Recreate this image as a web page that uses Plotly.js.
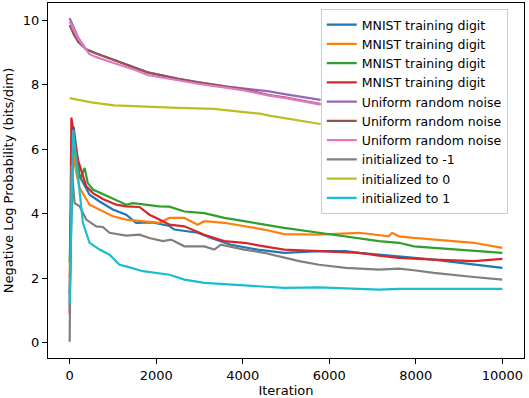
<!DOCTYPE html>
<html>
<head>
<meta charset="utf-8">
<script src="https://cdn.plot.ly/plotly-3.0.1.min.js"></script>
<style>
  body { margin: 0; background: #fff; }
  #chart { width: 529px; height: 398px; }
</style>
</head>
<body>
<div id="chart"></div>
<script>
// values (iteration, bits/dim)
var mnist1Iter = [0, 92, 231, 461, 692, 999, 1307, 1537, 1921, 2306, 2421, 2958, 3267, 3728, 4343, 4957, 5764, 6380, 6687, 7609, 8416, 9031, 10000];
var mnist1Nll  = [1.5, 6.7, 5.16, 4.59, 4.38, 4.13, 3.97, 3.72, 3.73, 3.62, 3.51, 3.41, 3.25, 3.04, 2.89, 2.79, 2.84, 2.84, 2.79, 2.68, 2.58, 2.48, 2.32];

var mnist2Iter = [0, 60, 150, 231, 461, 692, 999, 1307, 1691, 2075, 2306, 2652, 2958, 3113, 3574, 4035, 4496, 4957, 5764, 6687, 7148, 7378, 7452, 7609, 7955, 8416, 8877, 9338, 10000];
var mnist2Nll  = [2.0, 6.1, 5.3, 4.80, 4.28, 4.13, 3.92, 3.82, 3.77, 3.72, 3.87, 3.87, 3.66, 3.77, 3.72, 3.61, 3.51, 3.37, 3.35, 3.41, 3.35, 3.30, 3.41, 3.30, 3.25, 3.20, 3.15, 3.10, 2.94];

var mnist3Iter = [0, 80, 200, 250, 346, 420, 538, 922, 1307, 1460, 2075, 2306, 2652, 3113, 3574, 4035, 4496, 4957, 5764, 6687, 7148, 7609, 7955, 8416, 9338, 10000];
var mnist3Nll  = [2.5, 6.3, 5.3, 5.1, 5.42, 4.95, 4.75, 4.52, 4.28, 4.33, 4.23, 4.22, 4.07, 4.02, 3.87, 3.77, 3.66, 3.56, 3.41, 3.25, 3.15, 3.10, 2.99, 2.94, 2.84, 2.79];

var mnist4Iter = [0, 40, 192, 384, 538, 768, 1076, 1307, 1614, 1845, 2075, 2306, 2652, 3113, 3574, 4035, 4496, 4957, 5764, 6687, 7148, 7609, 8416, 9338, 10000];
var mnist4Nll  = [0.9, 6.98, 5.67, 4.85, 4.64, 4.46, 4.28, 4.23, 4.21, 3.97, 3.82, 3.66, 3.61, 3.35, 3.15, 3.10, 2.99, 2.89, 2.84, 2.79, 2.70, 2.63, 2.58, 2.53, 2.60];

var noise1Iter = [0, 100, 200, 376, 600, 1000, 1500, 1800, 2500, 3000, 3643, 4000, 4611, 5000, 5800];
var noise1Nll  = [10.06, 9.75, 9.45, 9.10, 8.97, 8.78, 8.53, 8.38, 8.19, 8.07, 7.94, 7.88, 7.79, 7.70, 7.53];

var noise2Iter = [0, 100, 200, 376, 600, 1000, 1500, 1800, 2500, 3000, 3643, 4000, 4611, 5000, 5800];
var noise2Nll  = [9.85, 9.55, 9.32, 9.10, 8.97, 8.77, 8.53, 8.38, 8.18, 8.06, 7.93, 7.86, 7.68, 7.60, 7.40];

var noise3Iter = [0, 100, 200, 454, 600, 1000, 1500, 1800, 2500, 3000, 3643, 4000, 4611, 5000, 5800];
var noise3Nll  = [9.96, 9.70, 9.42, 8.95, 8.86, 8.68, 8.46, 8.30, 8.13, 8.02, 7.90, 7.83, 7.66, 7.58, 7.38];

var initNegIter = [0, 40, 115, 231, 384, 615, 768, 922, 1307, 1614, 1845, 2152, 2345, 2652, 3113, 3343, 3497, 4035, 4496, 4957, 5303, 5764, 6380, 7148, 7609, 7955, 8416, 9338, 10000];
var initNegNll  = [0.03, 5.5, 4.33, 4.23, 3.82, 3.61, 3.59, 3.41, 3.32, 3.35, 3.25, 3.15, 3.20, 2.99, 2.99, 2.89, 3.04, 2.89, 2.79, 2.63, 2.53, 2.42, 2.32, 2.27, 2.30, 2.25, 2.17, 2.04, 1.96];

var initZeroIter = [0, 500, 1030, 1500, 2000, 2500, 3336, 3920, 4400, 4611, 5000, 5400, 5800];
var initZeroNll  = [7.58, 7.45, 7.36, 7.33, 7.30, 7.28, 7.25, 7.17, 7.10, 7.04, 6.95, 6.85, 6.78];

var initOneIter = [0, 80, 154, 231, 307, 461, 692, 922, 1153, 1307, 1691, 2306, 2652, 3113, 4035, 4957, 5764, 6687, 7148, 7609, 10000];
var initOneNll  = [1.18, 6.6, 5.67, 4.64, 3.71, 3.10, 2.89, 2.73, 2.42, 2.37, 2.22, 2.11, 1.96, 1.86, 1.77, 1.70, 1.72, 1.68, 1.65, 1.67, 1.67];

var seriesNames = [
  "MNIST training digit", "MNIST training digit", "MNIST training digit", "MNIST training digit",
  "Uniform random noise", "Uniform random noise", "Uniform random noise",
  "initialized to -1", "initialized to 0", "initialized to 1"
];
var seriesIters = [mnist1Iter, mnist2Iter, mnist3Iter, mnist4Iter, noise1Iter, noise2Iter, noise3Iter, initNegIter, initZeroIter, initOneIter];
var seriesNlls = [mnist1Nll, mnist2Nll, mnist3Nll, mnist4Nll, noise1Nll, noise2Nll, noise3Nll, initNegNll, initZeroNll, initOneNll];

var COLORS = ["#1f77b4", "#ff7f0e", "#2ca02c", "#d62728", "#9467bd", "#8c564b", "#e377c2", "#7f7f7f", "#bcbd22", "#17becf"];

var lineData = function() {
  return seriesNames.map(function(name, i) {
    return {
      type: "scatter",
      mode: "lines",
      name: name,
      x: seriesIters[i],
      y: seriesNlls[i],
      line: { color: COLORS[i], width: 2.2 }
    };
  });
};

var axisStyle = {
  showgrid: false,
  zeroline: false,
  showline: true,
  mirror: true,
  linecolor: "#000",
  linewidth: 1,
  ticks: "outside",
  ticklen: 5,
  tickwidth: 1,
  tickcolor: "#000",
  tickfont: { size: 13, color: "#000" }
};

var layout = {
  width: 529,
  height: 398,
  margin: { l: 48, r: 5, t: 3, b: 40 },
  paper_bgcolor: "#fff",
  plot_bgcolor: "#fff",
  font: { family: "DejaVu Sans", size: 13, color: "#000" },
  showlegend: true,
  legend: {
    x: 0.573, y: 0.983, xanchor: "left", yanchor: "top",
    bgcolor: "rgba(255,255,255,0.8)",
    bordercolor: "#cccccc",
    borderwidth: 1,
    font: { size: 12.5 }
  },
  xaxis: Object.assign({}, axisStyle, {
    range: [-500, 10500],
    dtick: 2000,
    tickformat: "d",
    title: { text: "Iteration", font: { size: 13 }, standoff: 4 }
  }),
  yaxis: Object.assign({}, axisStyle, {
    range: [-0.47, 10.53],
    dtick: 2,
    title: { text: "Negative Log Probability (bits/dim)", font: { size: 13 }, standoff: 6 }
  })
};

Plotly.newPlot("chart", lineData(), layout, { displayModeBar: false, staticPlot: true });
</script>
</body>
</html>
